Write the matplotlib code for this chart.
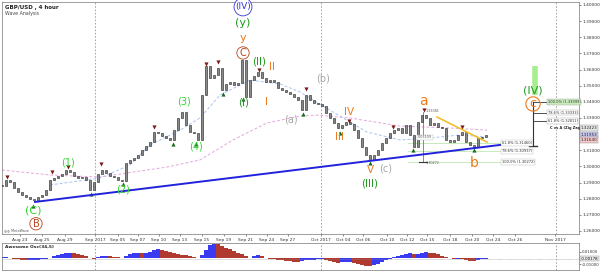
import matplotlib.pyplot as plt
import numpy as np

# 4h closes, sampled about every second bar
closes = [1.2879, 1.2916, 1.2903, 1.2866, 1.2842, 1.2823, 1.2811, 1.2798, 1.2792, 1.2811,
          1.2823, 1.2854, 1.2916, 1.2928, 1.2941, 1.2953, 1.2978, 1.2965, 1.2941, 1.2928,
          1.2934, 1.2916, 1.2854, 1.2903, 1.2953, 1.2978, 1.2959, 1.2941, 1.2934, 1.2916,
          1.2910, 1.3021, 1.3040, 1.3052, 1.3071, 1.3102, 1.3126, 1.3151, 1.3213, 1.3207,
          1.3188, 1.3176, 1.3164, 1.3225, 1.3300, 1.3337, 1.3257, 1.3213, 1.3207, 1.3164,
          1.3442, 1.3622, 1.3548, 1.3566, 1.3610, 1.3473, 1.3511, 1.3523, 1.3504, 1.3517,
          1.3660, 1.3430, 1.3535, 1.3560, 1.3585, 1.3548, 1.3523, 1.3535, 1.3523, 1.3486,
          1.3473, 1.3461, 1.3449, 1.3430, 1.3411, 1.3349, 1.3442, 1.3411, 1.3393, 1.3387,
          1.3374, 1.3331, 1.3300, 1.3269, 1.3238, 1.3257, 1.3275, 1.3263, 1.3225, 1.3176,
          1.3120, 1.3071, 1.3040, 1.3071, 1.3102, 1.3145, 1.3176, 1.3207, 1.3225, 1.3238,
          1.3207, 1.3257, 1.3195, 1.3120, 1.3275, 1.3318, 1.3300, 1.3257, 1.3269, 1.3244,
          1.3238, 1.3164, 1.3151, 1.3164, 1.3195, 1.3213, 1.3151, 1.3133, 1.3120, 1.3176,
          1.3182, 1.3195]

# Awesome Oscillator (34,5)
ao = [0.0015, 0.0015, 0.0008, -0.0015, -0.0023, -0.003, -0.0038, -0.0038, -0.0038, -0.003,
      -0.0023, -0.0015, 0.0008, 0.003, 0.0045, 0.006, 0.0075, 0.009, 0.0083, 0.0068,
      0.0045, 0.003, 0.0008, -0.0008, 0.0015, 0.003, 0.0038, 0.003, 0.0023, 0.0015,
      0.0008, 0.003, 0.006, 0.0083, 0.009, 0.0083, 0.009, 0.0105, 0.0128, 0.0143,
      0.0135, 0.012, 0.0098, 0.0075, 0.006, 0.0053, 0.0045, 0.003, 0.0015, 0.0008,
      0.0045, 0.0135, 0.021, 0.0228, 0.0222, 0.0195, 0.0165, 0.0143, 0.012, 0.009,
      0.0068, 0.003, 0.0008, 0.003, 0.0045, 0.0038, 0.0, -0.0015, -0.0023, -0.003,
      -0.0038, -0.0045, -0.0053, -0.006, -0.0068, -0.0045, -0.0038, -0.003, -0.003, -0.0023,
      -0.0015, -0.003, -0.0053, -0.0068, -0.0075, -0.0068, -0.006, -0.006, -0.0075, -0.0098,
      -0.0113, -0.0128, -0.0135, -0.012, -0.009, -0.006, -0.003, -0.0008, 0.0015, 0.003,
      0.0045, 0.006, 0.0075, 0.006, 0.0068, 0.009, 0.0105, 0.009, 0.0075, 0.006,
      0.0038, 0.0023, 0.0, -0.0015, -0.0015, -0.0023, -0.003, -0.0045, -0.0053, -0.0038,
      -0.0023, -0.0008]

# moving averages (bar position, price)
slow_ma_x = [0, 12, 24.5, 32.75, 41.25, 49.5, 57.75, 66.25, 74.5, 78.75, 87, 99.5, 112, 121.25]
slow_ma_y = [1.2978, 1.2947, 1.2934, 1.2965, 1.2996, 1.3040, 1.3164, 1.3269, 1.3312, 1.3318,
             1.3300, 1.3250, 1.3238, 1.3225]
fast_ma_x = [12, 24.5, 32, 37, 44.5, 49.5, 54.5, 62, 69.5, 74.5, 82.75, 91.25, 99.5, 107, 114.5, 121.25]
fast_ma_y = [1.2885, 1.2928, 1.3009, 1.3133, 1.3225, 1.3300, 1.3442, 1.3535, 1.3511, 1.3461,
             1.3337, 1.3213, 1.3164, 1.3176, 1.3195, 1.3182]

# fractal highs / lows
frac_hi_x = [1.25, 12.5, 16.5, 24.75, 38, 51, 54, 60.25, 64.25, 76, 86.75, 97.75, 105.5, 115]
frac_hi_y = [1.2935, 1.2965, 1.2996, 1.3015, 1.3244, 1.3635, 1.3647, 1.3678, 1.3597, 1.3480,
             1.3281, 1.3244, 1.3350, 1.3244]
frac_lo_x = [7.75, 22.25, 30.25, 42.75, 48.5, 55.25, 60.25, 75.25, 84.5, 92, 102.75, 118]
frac_lo_y = [1.2755, 1.2829, 1.2891, 1.3139, 1.3139, 1.3449, 1.3418, 1.3325, 1.3207, 1.3021,
             1.3102, 1.3102]

tick_pos = [4.5, 10, 15.75, 23.25, 29, 34, 39.25, 44.5, 50, 55.5, 61, 66.25, 71.5, 79.75,
            85.25, 90.25, 96.25, 101.25, 106.25, 112, 117.5, 122.75, 128.25, 138.25]
tick_labels = ['Aug 23', 'Aug 25', 'Aug 29', 'Sep 2017', 'Sep 05', 'Sep 07', 'Sep 10', 'Sep 13',
               'Sep 15', 'Sep 19', 'Sep 21', 'Sep 24', 'Sep 27', 'Oct 2017', 'Oct 04', 'Oct 06',
               'Oct 10', 'Oct 12', 'Oct 15', 'Oct 18', 'Oct 20', 'Oct 24', 'Oct 26', 'Nov 2017']
month_lines = [23.25, 79.75, 138.5]

retrace_levels = ['61.8%', '78.6%', '100.0%']
retrace_prices = [1.31460, 1.30937, 1.30272]
ext_levels = ['100.0%', '78.6%', '61.8%']
ext_prices = [1.33999, 1.33333, 1.32811]

GREEN = '#1e9a1e'
LGREEN = '#2fd42f'
ORANGE = '#f07a1a'
BROWN = '#b4441c'
GREY = '#a8a8a8'

# (text, x, price, colour, size, circled)
wave_labels = [
    ('(IV)', 60.25, 1.3988, '#3434d8', 6.5, True),
    ('(y)', 60.25, 1.3889, GREEN, 8, False),
    ('y', 60.25, 1.3795, ORANGE, 8, False),
    ('C', 60.25, 1.3703, BROWN, 7, True),
    ('(II)', 64.25, 1.3648, GREEN, 7.5, False),
    ('II', 67.5, 1.3617, ORANGE, 7.5, False),
    ('(b)', 80.25, 1.3542, GREY, 7, False),
    ('(I)', 60.5, 1.3393, GREEN, 7.5, False),
    ('I', 66, 1.3399, ORANGE, 7.5, False),
    ('(a)', 72.25, 1.3288, GREY, 7, False),
    ('IV', 86.75, 1.3337, ORANGE, 7.5, False),
    ('III', 84.5, 1.3182, ORANGE, 7.5, False),
    ('V', 92, 1.2978, ORANGE, 7.5, False),
    ('(c)', 96, 1.2990, GREY, 7, False),
    ('(III)', 92, 1.2897, GREEN, 7.5, False),
    ('a', 105.25, 1.3405, ORANGE, 10, False),
    ('b', 118, 1.3021, ORANGE, 10, False),
    ('(IV)', 132.75, 1.3473, GREEN, 8, False),
    ('(1)', 16.5, 1.3023, LGREEN, 7, False),
    ('(2)', 30.25, 1.2854, LGREEN, 7, False),
    ('(3)', 45.5, 1.3405, LGREEN, 7, False),
    ('(4)', 48.5, 1.3126, LGREEN, 7, False),
    ('(C)', 7.75, 1.2724, LGREEN, 8, False),
    ('B', 8.5, 1.2645, BROWN, 7, True),
]

fig = plt.figure(figsize=(6, 2.71), dpi=100)
ax = fig.add_axes([2 / 600, 1 - 234 / 271, 577 / 600, 232 / 271])
ao_ax = fig.add_axes([2 / 600, 1 - 270 / 271, 577 / 600, 27 / 271], sharex=ax)

idx = np.arange(len(closes))
c = np.array(closes)
o = np.r_[c[0], c[:-1]]
lo = np.minimum(o, c)
hi = np.maximum(o, c)
ax.bar(idx, np.maximum(hi - lo, 0.0005), bottom=lo, width=0.55, color='#8a8a8a',
       edgecolor='#1e1e1e', linewidth=0.4, zorder=3)

ax.plot(slow_ma_x, slow_ma_y, color='#e6a6e0', lw=0.7, ls=(0, (3, 2)), zorder=2)
ax.plot(fast_ma_x, fast_ma_y, color='#a8c4f0', lw=0.7, ls=(0, (3, 2)), zorder=2)

ax.scatter(frac_hi_x, frac_hi_y, marker='v', s=9, color='#7a1a1a', zorder=4, linewidths=0)
ax.scatter(frac_lo_x, frac_lo_y, marker='^', s=9, color='#1a6a1a', zorder=4, linewidths=0)

# trend lines
ax.plot([8.25, 124.5], [1.2780, 1.3133], color='#2222dd', lw=1.4, zorder=5)
ax.plot([108.75, 121.25], [1.3306, 1.3151], color='#f2c02a', lw=1.2, zorder=5)

for m in month_lines:
    ax.axvline(m, color='#9a9a9a', lw=0.6, ls=(0, (2, 2)), zorder=1)
    ao_ax.axvline(m, color='#9a9a9a', lw=0.6, ls=(0, (2, 2)), zorder=1)

# fib retracement a -> b
for lvl, p in zip(retrace_levels, retrace_prices):
    ax.plot([101.5, 124.5], [p, p], color='#bde8b0', lw=0.6, zorder=2)
    ax.text(125, p, f'{lvl} ({p:.5f})', fontsize=2.6, va='center', ha='left', color='#333333',
            bbox=dict(boxstyle='square,pad=0.2', fc='white', ec='#b8b8b8', lw=0.3))

# measurement at wave a
ax.plot([105.25, 105.25], [1.3338, 1.3027], color='#777777', lw=0.6, zorder=2)
ax.plot([104.25, 106.25], [1.3027, 1.3027], color='#333333', lw=0.8)
ax.text(106, 1.3019, '1.30272', fontsize=2.4, color='#555555', va='center')
ax.text(106, 1.3345, '1.33381', fontsize=2.4, color='#555555', va='center')
ax.text(104, 1.3180, '0.03109', fontsize=2.4, color='#555555', va='center',
        bbox=dict(boxstyle='square,pad=0.2', fc='white', ec='#b8b8b8', lw=0.3))

# c vs a projection
ax.plot([133.25, 133.25], [1.3443, 1.3622], color='#a6ee8e', lw=4, solid_capstyle='butt', zorder=2)
ax.plot([132.75, 132.75], [ext_prices[0], 1.3126], color='#333333', lw=0.8, zorder=3)
ax.plot([131.75, 133.75], [1.3126, 1.3126], color='#333333', lw=1)
box_fc = ['#c8ecbc', 'white', 'white']
for lvl, p, fc in zip(ext_levels, ext_prices, box_fc):
    ax.plot([132.75, 136.3], [p, p], color='#333333', lw=0.6, zorder=3)
    ax.text(136.4, p, f'{lvl} ({p:.5f})', fontsize=2.6, va='center', ha='left', color='#333333',
            bbox=dict(boxstyle='square,pad=0.2', fc=fc, ec='#a0a0a0', lw=0.3))
ax.text(141, 1.3240, 'C vs A (Zig Zag)', fontsize=2.6, ha='center', va='center',
        fontweight='bold', color='#222222')
ax.text(132.75, 1.3387, 'c', fontsize=9, color=ORANGE, ha='center', va='center', zorder=6,
        bbox=dict(boxstyle='circle,pad=0.05', fc='none', ec=ORANGE, lw=0.8))

for txt, x, p, col, size, circ in wave_labels:
    kw = {}
    if circ:
        kw['bbox'] = dict(boxstyle='circle,pad=0.12', fc='white', ec=col, lw=0.6)
    ax.text(x, p, txt, color=col, fontsize=size, ha='center', va='center', zorder=6, **kw)

ax.text(0.006, 0.985, 'GBP/USD , 4 hour', transform=ax.transAxes, fontsize=4,
        fontweight='bold', va='top', color='#222222')
ax.text(0.006, 0.96, 'Wave Analysis', transform=ax.transAxes, fontsize=3.4,
        va='top', color='#444444')
ax.text(0.004, 0.008, '\u25ce\u25ce MetaWave', transform=ax.transAxes, fontsize=2.4,
        va='bottom', color='#555555')

# right-axis price boxes
for p, txt, fc in [(1.3238, '1.32423', '#e8e8e8'), (1.3195, '1.31953', '#c8c8f4'),
                   (1.3164, '1.31640', '#f4c8c8')]:
    ax.text(1.003, p, txt, transform=ax.get_yaxis_transform(), fontsize=3, va='center',
            ha='left', color='#222222',
            bbox=dict(boxstyle='square,pad=0.15', fc=fc, ec='#888888', lw=0.3))

ax.set_xlim(0, 144.25)
ax.set_ylim(1.25814, 1.40185)
ax.yaxis.tick_right()
yt = np.arange(1.26, 1.4001, 0.01)
ax.set_yticks(yt)
# 1.32000 sits under the price boxes
ax.set_yticklabels(['' if abs(v - 1.32) < 1e-6 else f'{v:.5f}' for v in yt])
ax.set_xticks(tick_pos)
ax.set_xticklabels(tick_labels)
ax.tick_params(axis='y', labelsize=3.2, length=1.5, width=0.4, pad=1, colors='#333333')
ax.tick_params(axis='x', labelsize=3.2, length=1.5, width=0.4, pad=1.2, colors='#333333')
for s in ax.spines.values():
    s.set_linewidth(0.5)
    s.set_color('#777777')

# Awesome oscillator
a = np.array(ao)
rising = np.r_[True, a[1:] >= a[:-1]]
cols = np.where(rising, '#3a3af0', '#b03a30')
ao_ax.bar(idx, a, width=0.85, color=cols, linewidth=0)
ao_ax.axhline(-0.0012, color='#888888', lw=0.4, ls=(0, (1, 1)))
ao_ax.set_ylim(-0.0195, 0.0245)
ao_ax.yaxis.tick_right()
ao_ax.set_yticks([-0.01, 0.01])
ao_ax.set_yticklabels(['-0.01000', '0.01000'])
ao_ax.tick_params(axis='y', labelsize=2.9, length=1.2, width=0.4, pad=0.8, colors='#333333')
ao_ax.tick_params(axis='x', bottom=False, labelbottom=False)
ao_ax.text(1.003, -0.0012, '-0.00178', transform=ao_ax.get_yaxis_transform(), fontsize=2.8,
           va='center', ha='left',
           bbox=dict(boxstyle='square,pad=0.15', fc='#eeeeee', ec='#888888', lw=0.3))
ao_ax.text(0.006, 0.93, 'Awesome Osc(34,5)', transform=ao_ax.transAxes, fontsize=3.2,
           fontweight='bold', va='top', color='#222222')
for s in ao_ax.spines.values():
    s.set_linewidth(0.5)
    s.set_color('#777777')

fig.savefig('out.png', dpi=100)
